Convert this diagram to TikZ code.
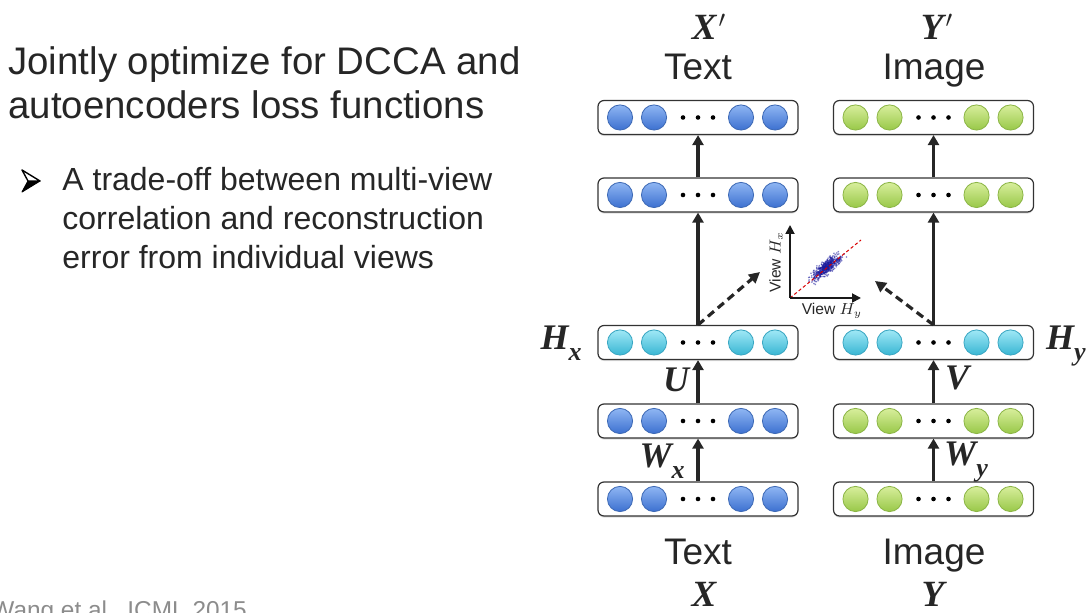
\documentclass[tikz,border=0pt]{standalone}
\usepackage{fontspec}
\setmainfont{Liberation Sans}
\newfontfamily\bisf{Liberation Serif}
\usetikzlibrary{arrows.meta,calc,shadows}

\definecolor{txt}{HTML}{262626}
\definecolor{foot}{HTML}{8C8C8C}
\definecolor{btop}{HTML}{8FB6F3}
\definecolor{bbot}{HTML}{3C70D0}
\definecolor{bedge}{HTML}{3D69B5}
\definecolor{ctop}{HTML}{A0E8F6}
\definecolor{cbot}{HTML}{38B6D3}
\definecolor{cedge}{HTML}{39A6C2}
\definecolor{gtop}{HTML}{D8EE9C}
\definecolor{gbot}{HTML}{98C848}
\definecolor{gedge}{HTML}{8BB545}
\definecolor{scat}{HTML}{1A1A9C}

\tikzset{
  layerbox/.style={draw=black!80, line width=0.6pt, fill=white, rounded corners=3pt,
    minimum width=100pt, minimum height=17pt, inner sep=0pt,
    drop shadow={shadow xshift=0pt, shadow yshift=-0.8pt, opacity=0.25}},
  arr/.style={line width=1.6pt, draw=black!85, -{Triangle[length=5pt,width=5.5pt]}},
  darr/.style={line width=1.6pt, draw=black!85, dash pattern=on 4pt off 2.5pt,
    -{Triangle[length=5.5pt,width=5.5pt]}},
  axis/.style={line width=0.9pt, draw=black!90, -{Triangle[length=4.5pt,width=4.5pt]}},
  corr/.style={red!85!black, line width=0.5pt, dash pattern=on 1.6pt off 1.2pt},
  title/.style={anchor=base west, inner sep=0pt, text=txt, font=\fontsize{19.2}{22}\selectfont},
  bullet/.style={anchor=base west, inner sep=0pt, text=txt, font=\fontsize{16}{19}\selectfont},
  view/.style={anchor=base, inner sep=0pt, text=txt, font=\fontsize{18.5}{21}\selectfont},
  var/.style={anchor=base, inner sep=0pt, text=txt, font=\bisf\bfseries\itshape\fontsize{18.5}{21}\selectfont},
  wlab/.style={inner sep=0pt, text=txt, font=\bisf\bfseries\itshape\fontsize{18}{20}\selectfont},
  small/.style={inner sep=0pt, text=txt, font=\fontsize{7.8}{9}\selectfont},
}

% one layer: box with four units and an ellipsis
\newcommand\layer[4]{%
  \node[layerbox] (#1) at (#2,#3) {};
  \foreach \dx in {-78,-44,43,77}
    \shade[top color=#4top, bottom color=#4bot, draw=#4edge, line width=0.4pt]
      ($(#1)+(\dx,0)$) circle[radius=6.3pt];
  \foreach \dx in {-15,0,15}
    \fill[black] ($(#1)+(\dx,0)$) circle[radius=1.15pt];
}
\newcommand\sub[1]{\raisebox{-0.32em}{\fontsize{13}{14}\selectfont #1}}

\begin{document}
\begin{tikzpicture}[x=0.5pt,y=-0.5pt]
\useasboundingbox (0,0) rectangle (1091,613);

% left-hand text
\node[title] (t1) at (8,75) {Jointly optimize for DCCA and};
\node[title] (t2) at (8,119) {autoencoders loss functions};
\filldraw[black, line width=0.5pt, line join=round] (40,181) -- (22,192) -- (28,181) -- cycle;
\draw[black, fill=white, line width=0.7pt, line join=round] (40,181) -- (22,170) -- (28,181) -- cycle;
\node[bullet] (b1) at (62,191) {A trade-off between multi-view};
\node[bullet] (b2) at (62,230) {correlation and reconstruction};
\node[bullet] (b3) at (62,269) {error from individual views};
\node[anchor=base west, inner sep=0pt, text=foot, font=\fontsize{12.2}{14}\selectfont] (ft) at (-9,618) {Wang et al., ICML 2015};

% text view (left column)
\layer{lx0}{698}{499}{b}
\layer{lx1}{698}{421}{b}
\layer{hx}{698}{342.5}{c}
\layer{lx3}{698}{195}{b}
\layer{lx4}{698}{117.5}{b}

% image view (right column)
\layer{ly0}{933.5}{499}{g}
\layer{ly1}{933.5}{421}{g}
\layer{hy}{933.5}{342.5}{c}
\layer{ly3}{933.5}{195}{g}
\layer{ly4}{933.5}{117.5}{g}

% forward connections
\draw[arr] (lx0.north) -- (lx1.south);
\draw[arr] (lx1.north) -- (hx.south);
\draw[arr] (hx.north) -- (lx3.south);
\draw[arr] (lx3.north) -- (lx4.south);
\draw[arr] (ly0.north) -- (ly1.south);
\draw[arr] (ly1.north) -- (hy.south);
\draw[arr] (hy.north) -- (ly3.south);
\draw[arr] (ly3.north) -- (ly4.south);

% correlation plot between the two codes
\coordinate (o) at (790,298);
\coordinate (ytip) at (790,225);
\coordinate (xtip) at (861,298);
\coordinate (rtip) at (861,240);
\coordinate (sc) at (826,268);
\pgfmathsetseed{11}
\foreach \i in {1,...,550}{
  \pgfmathsetmacro\u{8.5*(rand+rand+rand)}
  \pgfmathsetmacro\v{2.8*(rand+rand+rand)}
  \fill[scat, opacity=0.55] ($(sc)+(0.78*\u+0.625*\v,-0.625*\u+0.78*\v)$) circle[radius=0.45pt];
}
\draw[corr] (o) -- (rtip);
\draw[axis] (o) -- (ytip);
\draw[axis] (o) -- (xtip);
\node[small, rotate=90] (vhx) at (776,262) {View $H_x$};
\node[small] (vhy) at (832,311) {View $H_y$};

\coordinate (dl) at (760,272);
\coordinate (dr) at (875,281);
\draw[darr] (hx.north) -- (dl);
\draw[darr] (hy.north) -- (dr);

% view names and variables
\node[var] (xp) at (709,40) {X\kern0.06em$'$};
\node[view] (tt) at (698,80) {Text};
\node[var] (yp) at (937,40) {Y\kern0.06em$'$};
\node[view] (it) at (934,80) {Image};
\node[view] (tb) at (698,565) {Text};
\node[var] (xb) at (704,607) {X};
\node[view] (ib) at (934,565) {Image};
\node[var] (yb) at (933,607) {Y};

% layer labels
\node[wlab] (lhx) at (561,343) {H\sub{x}};
\node[wlab] (lhy) at (1066,346) {H\sub{y}};
\node[wlab] (lu) at (676,380) {U};
\node[wlab] (lv) at (957,378) {V};
\node[wlab] (lwx) at (662,461) {W\sub{x}};
\node[wlab] (lwy) at (966,462) {W\sub{y}};
\end{tikzpicture}
\end{document}
